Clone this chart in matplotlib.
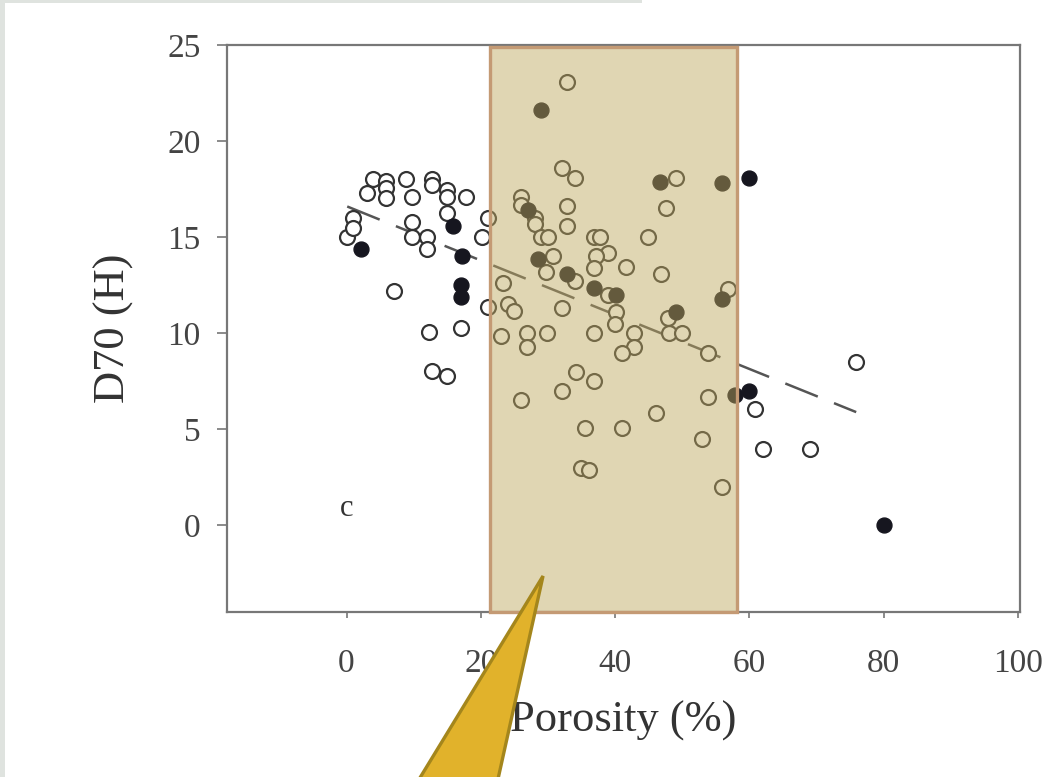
import matplotlib
matplotlib.use("Agg")
import matplotlib.pyplot as plt
from matplotlib.patches import Rectangle, Polygon

plt.rcParams['font.family'] = ['Liberation Serif', 'DejaVu Serif']

# open circles (porosity %, D70)
open_x = [0, 0.9, 0.9, 3.0, 3.9, 5.9, 5.9, 5.9, 8.9, 9.8, 9.8, 9.8, 12.0, 12.0,
          12.8, 12.8, 14.9, 14.9, 14.9, 17.8, 20.1, 21.0, 7.1, 21.0, 12.3, 17.1,
          12.8, 14.9,
          32.8, 32.1, 34.0, 49.0, 26.0, 26.0, 28.1, 28.1, 32.8, 32.8, 47.5, 29.0,
          30.0, 36.8, 37.7, 44.9, 38.9, 37.1, 30.8, 36.8, 41.6, 46.9, 29.7, 34.0,
          23.3, 39.0, 56.8, 47.8, 40.1, 40.0, 32.1, 24.1, 25.0, 23.0, 26.9, 26.9,
          29.9, 36.8, 42.8, 42.8, 41.0, 48.0, 49.9, 53.9, 34.2, 36.8, 32.1, 26.0,
          53.9, 46.1, 35.5, 41.0, 52.9, 34.9, 36.1, 55.9,
          60.9, 62.0, 69.0, 75.8]
open_y = [15.0, 16.0, 15.5, 17.3, 18.05, 17.95, 17.55, 17.05, 18.05, 17.1, 15.8, 15.0, 15.0, 14.4,
          18.05, 17.7, 17.45, 17.1, 16.25, 17.1, 15.0, 16.0, 12.2, 11.35, 10.05, 10.3,
          8.05, 7.8,
          23.1, 18.6, 18.1, 18.1, 17.1, 16.7, 16.0, 15.7, 16.6, 15.6, 16.5, 15.0,
          15.0, 15.0, 15.0, 15.0, 14.2, 14.0, 14.0, 13.4, 13.45, 13.1, 13.2, 12.7,
          12.6, 12.0, 12.3, 10.8, 11.1, 10.5, 11.3, 11.5, 11.15, 9.85, 10.0, 9.3,
          10.0, 10.0, 10.0, 9.3, 9.0, 10.0, 10.0, 9.0, 8.0, 7.5, 7.0, 6.55,
          6.7, 5.85, 5.05, 5.05, 4.5, 3.0, 2.9, 2.0,
          6.05, 4.0, 4.0, 8.5]

# filled circles
fill_x = [2.2, 15.8, 17.2, 17.1, 17.1, 29.0, 46.7, 55.9, 59.9, 27.0, 28.5, 32.8,
          36.8, 40.1, 55.9, 49.0, 57.9, 59.9, 80.0]
fill_y = [14.4, 15.6, 14.0, 12.5, 11.9, 21.6, 17.9, 17.8, 18.1, 16.4, 13.85, 13.1,
          12.35, 12.0, 11.8, 11.1, 6.8, 7.0, 0.0]

# dashed trend line end points
trend_x = [0.1, 75.9]
trend_y = [16.6, 5.9]

# highlighted porosity band
band = [21.4, 58.1]

x_ticks = [0, 20, 40, 60, 80, 100]
y_ticks = [0, 5, 10, 15, 20, 25]

fig = plt.figure(figsize=(10.53, 7.77), dpi=100)
ax = fig.add_axes([0.2156, 0.2124, 0.7531, 0.7296])

ax.scatter(open_x, open_y, s=115, facecolors='white', edgecolors='#333333',
           linewidths=1.6, zorder=3)
ax.scatter(fill_x, fill_y, s=115, facecolors='#16161f', edgecolors='#16161f',
           linewidths=1.0, zorder=4)
ax.plot(trend_x, trend_y, color='#555555', lw=1.8, dashes=(14, 7), zorder=2)

ax.text(0, 0.9, 'c', fontsize=22, color='#333333', ha='center', va='center')

# translucent band over the points, opaque border
ax.add_patch(Rectangle((band[0], -4.5), band[1] - band[0], 29.4,
                       facecolor=(190/255, 168/255, 95/255), alpha=0.47,
                       edgecolor='none', zorder=5))
ax.add_patch(Rectangle((band[0], -4.5), band[1] - band[0], 29.4,
                       fill=False, edgecolor='#c49a74', lw=2.4, zorder=6,
                       clip_on=False))

ax.set_xlim(-17.8, 100.3)
ax.set_ylim(-4.5, 25)
ax.set_xticks(x_ticks)
ax.set_yticks(y_ticks)

for s in ax.spines.values():
    s.set_color('#777777')
    s.set_linewidth(1.6)

ax.tick_params(axis='y', direction='out', length=7, width=1.2, color='#777777',
               labelsize=24, labelcolor='#444444', pad=12)
ax.tick_params(axis='x', direction='out', length=4, width=1.2, color='#777777',
               labelsize=24, labelcolor='#444444', pad=22)

ax.set_xlabel('Porosity (%)', fontsize=32, color='#333333', labelpad=16)
ax.set_ylabel('D70 (H)', fontsize=32, color='#333333', labelpad=24)

# page background strips
fig.add_artist(Rectangle((0, 0), 0.005, 1, transform=fig.transFigure,
                         facecolor='#dfe3df', edgecolor='none'))
fig.add_artist(Rectangle((0, 0.996), 0.61, 0.004, transform=fig.transFigure,
                         facecolor='#dfe3df', edgecolor='none'))

# callout pointer
fig.add_artist(Polygon([(0.5157, 0.2587), (0.3903, -0.02), (0.4701, -0.02)],
                       closed=True, transform=fig.transFigure,
                       facecolor='#e1b22b', edgecolor='#a4861c', lw=2.4, zorder=10))

fig.savefig('out.png', dpi=100)
